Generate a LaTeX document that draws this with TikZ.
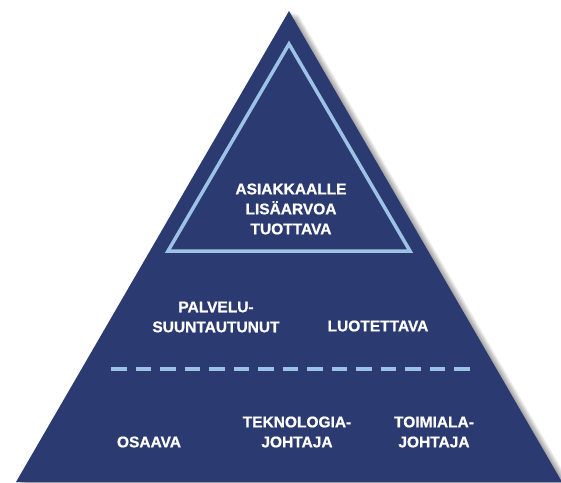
\documentclass[tikz,border=0pt]{standalone}
\usepackage{fontspec}
\setmainfont{Liberation Sans}
\newfontfamily\lblfont{Liberation Sans}[FakeBold=0.8]
\definecolor{navy}{HTML}{2B3A70}
\definecolor{lightblue}{HTML}{9CC3E5}
\begin{document}
\begin{tikzpicture}[x=1pt,y=-1pt,
  lbl/.style={text=white, font=\lblfont\bfseries\fontsize{15.5}{20}\selectfont, align=center, inner sep=0pt},
  shadowfill/.style={fill=black, opacity=0.035}]
\useasboundingbox (0,0) rectangle (561,482);
% shadow
\foreach \i in {1,...,12}
  \fill[shadowfill, xshift=\i*0.8pt, yshift=-\i*0.3pt] (289,11) -- (562,482) -- (16,482) -- cycle;
% main pyramid
\fill[navy] (289,11) -- (562,482) -- (16,482) -- cycle;
% inner triangle
\draw[lightblue, line width=3.5pt, line join=miter] (289,44) -- (410,251) -- (168,251) -- cycle;
% dashed divider
\coordinate (dl) at (111,369);
\coordinate (dr) at (470,369);
\draw[lightblue, line width=4.5pt, dash pattern=on 15.5pt off 9pt] (dl) -- (dr);
% texts
\node[lbl] (top) at (291,209) {ASIAKKAALLE\\LIS\"AARVOA\\TUOTTAVA};
\node[lbl] (palv) at (216,317) {PALVELU-\\SUUNTAUTUNUT};
\node[lbl] (luot) at (378,326) {LUOTETTAVA};
\node[lbl] (osaa) at (149,442) {OSAAVA};
\node[lbl] (tekn) at (297,432) {TEKNOLOGIA-\\JOHTAJA};
\node[lbl] (toim) at (434,432) {TOIMIALA-\\JOHTAJA};
\end{tikzpicture}
\end{document}
